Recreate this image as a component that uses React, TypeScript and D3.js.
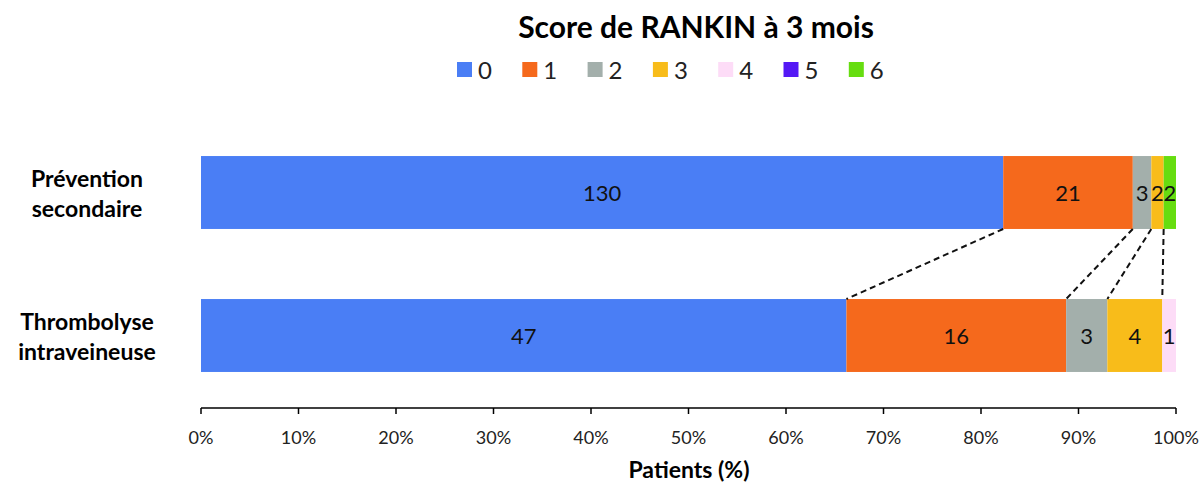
import React from "react";
import * as d3 from "d3";

const categories = ["Prévention secondaire", "Thrombolyse intraveineuse"];
const scores = ["0", "1", "2", "3", "4", "5", "6"];
// counts per Rankin score, one array per group
const preventionValues = [130, 21, 3, 2, 0, 0, 2];
const thrombolyseValues = [47, 16, 3, 4, 1, 0, 0];
const xTicks = [0, 10, 20, 30, 40, 50, 60, 70, 80, 90, 100];

const colors = ["#4a7ef5", "#f5691c", "#a3afab", "#f8bc1a", "#fddcf7", "#5418f5", "#66dd10"];
const FONT = "Lato, 'Open Sans', sans-serif";

export default function App() {
  const width = 1204;
  const height = 483;

  const x = d3.scaleLinear().domain([0, 100]).range([201, 1176]);
  const y = d3.scaleBand<string>()
    .domain(categories)
    .range([121, 407])
    .paddingInner(0.49)
    .paddingOuter(0.245);
  const color = d3.scaleOrdinal<string, string>().domain(scores).range(colors);

  const rows = [preventionValues, thrombolyseValues].map((vals, r) => {
    const total = d3.sum(vals);
    const ends = d3.cumsum(vals).map(v => (v / total) * 100);
    return vals.map((v, i) => ({
      cat: categories[r],
      key: scores[i],
      value: v,
      x0: i === 0 ? 0 : ends[i - 1],
      x1: ends[i],
    }));
  });

  const bw = y.bandwidth();
  const topY = y(categories[0])! + bw;
  const botY = y(categories[1])!;

  // dashed connectors between the boundaries of the two bars
  const links = [0, 1, 2, 3].map(i => ({
    from: rows[0][i].x1,
    to: rows[1][i].x1,
  }));

  const axisY = 408;

  return (
    <svg width={width} height={height} style={{ position: "absolute", left: 0, top: 0 }} fontFamily={FONT}>
      <rect width={width} height={height} fill="#fff" />
      <text x={696} y={38} textAnchor="middle" fontSize={30} fontWeight="bold" fill="#000">
        Score de RANKIN à 3 mois
      </text>

      {scores.map((s, i) => {
        const lx = 457 + i * 65.3;
        return (
          <g key={s}>
            <rect x={lx} y={62} width={15} height={15} fill={color(s)} />
            <text x={lx + 21} y={79} fontSize={24} fill="#222">{s}</text>
          </g>
        );
      })}

      {rows.map(row =>
        row.filter(d => d.value > 0).map(d => (
          <g key={d.cat + d.key}>
            <rect
              x={x(d.x0)}
              y={y(d.cat)}
              width={x(d.x1) - x(d.x0)}
              height={bw}
              fill={color(d.key)}
            />
            <text
              x={(x(d.x0) + x(d.x1)) / 2}
              y={y(d.cat)! + bw / 2 + 8}
              textAnchor="middle"
              fontSize={22}
              fill="#111"
            >
              {d.value}
            </text>
          </g>
        ))
      )}

      {links.map((l, i) => (
        <line
          key={i}
          x1={x(l.from)}
          y1={topY}
          x2={x(l.to)}
          y2={botY}
          stroke="#111"
          strokeWidth={2}
          strokeDasharray="6,4"
        />
      ))}

      {categories.map(c => {
        const words = c.split(" ");
        const cy = y(c)! + bw / 2;
        return (
          <text key={c} x={87} textAnchor="middle" fontSize={23} fontWeight="bold" fill="#000">
            <tspan x={87} y={cy - 6}>{words[0]}</tspan>
            <tspan x={87} y={cy + 24}>{words[1]}</tspan>
          </text>
        );
      })}

      <line x1={x(0)} x2={x(100)} y1={axisY} y2={axisY} stroke="#000" strokeWidth={1.5} />
      {xTicks.map(t => (
        <g key={t}>
          <line x1={x(t)} x2={x(t)} y1={axisY} y2={axisY + 6} stroke="#000" strokeWidth={1.5} />
          <text x={x(t)} y={444} textAnchor="middle" fontSize={18} fill="#222">{t}%</text>
        </g>
      ))}
      <text x={689} y={478} textAnchor="middle" fontSize={23} fontWeight="bold" fill="#000">
        Patients (%)
      </text>
    </svg>
  );
}
